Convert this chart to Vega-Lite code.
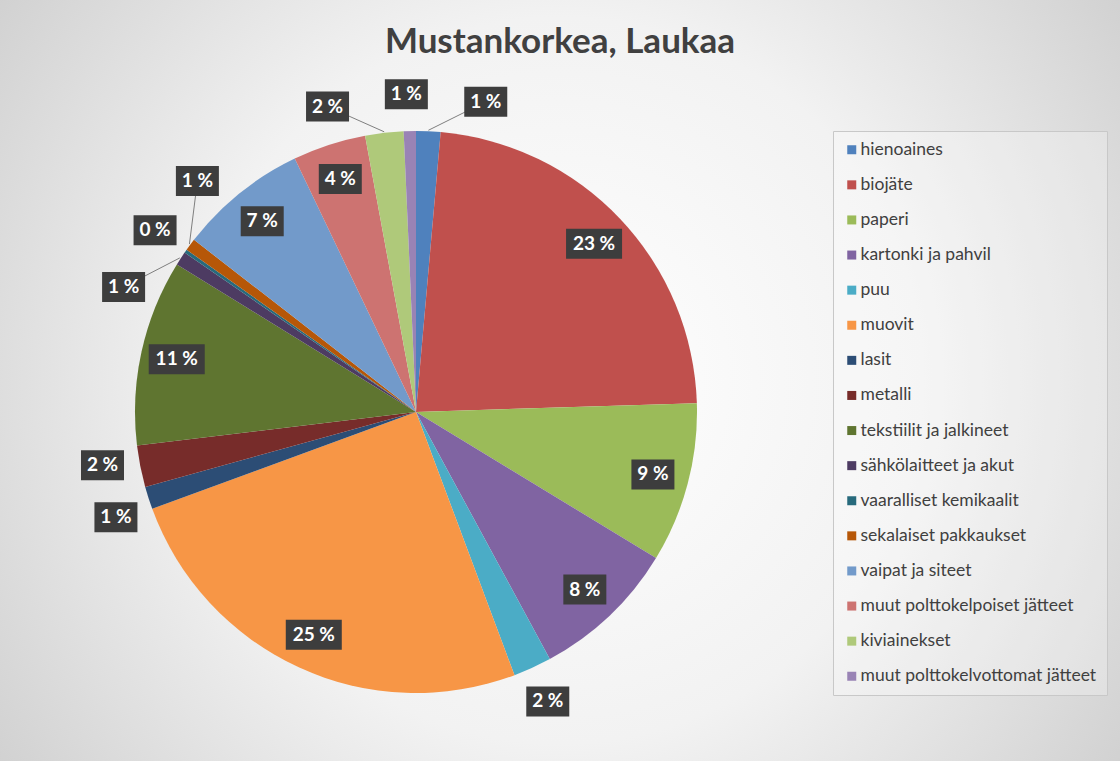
{
  "$schema": "https://vega.github.io/schema/vega-lite/v6.json",
  "width": 1120,
  "height": 761,
  "autosize": "none",
  "padding": 0,
  "background": "#d4d4d4",
  "config": {"view": {"stroke": null}, "font": "Lato"},
  "title": {"text": "Mustankorkea, Laukaa", "font": "Lato", "fontSize": 35, "fontWeight": "bold", "color": "#404040", "anchor": "middle", "offset": -52, "dy": 36, "baseline": "alphabetic"},
  "data": {"values": [
    {"i": 1, "k": "hienoaines", "v": 1.4},
    {"i": 2, "k": "biojäte", "v": 23.1},
    {"i": 3, "k": "paperi", "v": 9.2},
    {"i": 4, "k": "kartonki ja pahvil", "v": 8.4},
    {"i": 5, "k": "puu", "v": 2.2},
    {"i": 6, "k": "muovit", "v": 25.1},
    {"i": 7, "k": "lasit", "v": 1.3},
    {"i": 8, "k": "metalli", "v": 2.4},
    {"i": 9, "k": "tekstiilit ja jalkineet", "v": 10.7},
    {"i": 10, "k": "sähkölaitteet ja akut", "v": 0.8},
    {"i": 11, "k": "vaaralliset kemikaalit", "v": 0.2},
    {"i": 12, "k": "sekalaiset pakkaukset", "v": 0.7},
    {"i": 13, "k": "vaipat ja siteet", "v": 7.4},
    {"i": 14, "k": "muut polttokelpoiset jätteet", "v": 4.2},
    {"i": 15, "k": "kiviainekset", "v": 2.2},
    {"i": 16, "k": "muut polttokelvottomat jätteet", "v": 0.7}
  ]},
  "layer": [
    {
      "data": {"values": [{}]},
      "mark": {"type": "rect", "fill": {"gradient": "radial", "x1": 0.5, "y1": 0.5, "r1": 0, "x2": 0.5, "y2": 0.5, "r2": 0.72, "stops": [{"offset": 0, "color": "#ffffff"}, {"offset": 0.45, "color": "#f2f2f2"}, {"offset": 1, "color": "#c4c4c4"}]}},
      "encoding": {}
    },
    {
      "mark": {"type": "arc", "outerRadius": 281},
      "encoding": {
        "theta": {"field": "v", "type": "quantitative", "stack": true},
        "order": {"field": "i", "type": "quantitative"},
        "x": {"datum": 0, "type": "quantitative", "scale": {"domain": [-416, 704], "nice": false, "zero": false}, "axis": null},
        "y": {"datum": 0, "type": "quantitative", "scale": {"domain": [-349, 412], "nice": false, "zero": false}, "axis": null},
        "color": {
          "field": "k", "type": "nominal", "sort": null,
          "scale": {
            "domain": ["hienoaines", "biojäte", "paperi", "kartonki ja pahvil", "puu", "muovit", "lasit", "metalli", "tekstiilit ja jalkineet", "sähkölaitteet ja akut", "vaaralliset kemikaalit", "sekalaiset pakkaukset", "vaipat ja siteet", "muut polttokelpoiset jätteet", "kiviainekset", "muut polttokelvottomat jätteet"],
            "range": ["#4F81BD", "#C0504D", "#9BBB59", "#8064A2", "#4BACC6", "#F79646", "#2C4D75", "#772C2A", "#5F7530", "#4D3B62", "#276A7C", "#B65708", "#729ACA", "#CD7371", "#AFC97A", "#9983B5"]
          },
          "legend": {"orient": "none", "legendX": 833, "legendY": 131, "title": null, "symbolType": "square", "symbolSize": 81, "symbolStrokeWidth": 0, "labelFontSize": 17.5, "labelFont": "Lato", "labelColor": "#404040", "rowPadding": 16.1, "padding": 10, "fillColor": "rgba(255,255,255,0.25)", "strokeColor": "#c8c8c8", "labelLimit": 400, "labelOffset": 0}
        }
      }
    },
    {
      "transform": [
        {"window": [{"op": "sum", "field": "v", "as": "cum"}], "sort": [{"field": "i"}], "frame": [null, 0]},
        {"joinaggregate": [{"op": "sum", "field": "v", "as": "tot"}]},
        {"calculate": "(datum.cum - datum.v / 2) / datum.tot * 360", "as": "mid"},
        {"calculate": "datum.v < 3 ? 1 : 0", "as": "out"},
        {"calculate": "datum.mid > 270 ? datum.mid - 360 : datum.mid", "as": "a"},
        {"window": [{"op": "lag", "field": "a", "as": "pa"}], "sort": [{"field": "a"}], "groupby": ["out"]},
        {"calculate": "(datum.pa == null || datum.a - datum.pa > 20) ? 1 : 0", "as": "nc"},
        {"window": [{"op": "sum", "field": "nc", "as": "cl"}], "sort": [{"field": "a"}], "groupby": ["out"], "frame": [null, 0]},
        {"joinaggregate": [{"op": "mean", "field": "a", "as": "ca"}, {"op": "count", "as": "n"}], "groupby": ["out", "cl"]},
        {"window": [{"op": "row_number", "as": "rk"}], "sort": [{"field": "a"}], "groupby": ["out", "cl"]},
        {"calculate": "datum.out == 1 ? datum.ca + (datum.rk - (datum.n + 1) / 2) * (45 + 35 * abs(cos(datum.ca * PI / 180))) / 318 * 180 / PI : datum.mid", "as": "la"},
        {"calculate": "datum.out == 1 ? 318 : 245", "as": "lr"},
        {"calculate": "datum.lr * sin(datum.la * PI / 180)", "as": "lx"},
        {"calculate": "datum.lr * cos(datum.la * PI / 180)", "as": "ly"},
        {"calculate": "282 * sin(datum.mid * PI / 180)", "as": "ex"},
        {"calculate": "282 * cos(datum.mid * PI / 180)", "as": "ey"},
        {"calculate": "toString(round(datum.v)) + ' %'", "as": "t"},
        {"calculate": "13 * length(datum.t) + 4", "as": "w"},
        {"calculate": "datum.lx - datum.w / 2", "as": "bx1"},
        {"calculate": "datum.lx + datum.w / 2", "as": "bx2"},
        {"calculate": "datum.ly - 15", "as": "by1"},
        {"calculate": "datum.ly + 15", "as": "by2"}
      ],
      "layer": [
        {
          "transform": [{"filter": "datum.out == 1 && abs(datum.la - (datum.mid > 270 ? datum.mid - 360 : datum.mid)) > 3"}],
          "mark": {"type": "rule", "color": "#7f7f7f", "strokeWidth": 1},
          "encoding": {
            "x": {"field": "ex", "type": "quantitative", "scale": {"domain": [-416, 704], "nice": false, "zero": false}, "axis": null},
            "y": {"field": "ey", "type": "quantitative", "scale": {"domain": [-349, 412], "nice": false, "zero": false}, "axis": null},
            "x2": {"field": "lx"},
            "y2": {"field": "ly"}
          }
        },
        {
          "mark": {"type": "rect", "fill": "#3d3d3d"},
          "encoding": {
            "x": {"field": "bx1", "type": "quantitative", "scale": {"domain": [-416, 704], "nice": false, "zero": false}, "axis": null},
            "x2": {"field": "bx2"},
            "y": {"field": "by1", "type": "quantitative", "scale": {"domain": [-349, 412], "nice": false, "zero": false}, "axis": null},
            "y2": {"field": "by2"}
          }
        },
        {
          "mark": {"type": "text", "color": "#ffffff", "font": "Lato", "fontWeight": "bold", "fontSize": 19, "align": "center", "baseline": "middle"},
          "encoding": {
            "x": {"field": "lx", "type": "quantitative", "scale": {"domain": [-416, 704], "nice": false, "zero": false}, "axis": null},
            "y": {"field": "ly", "type": "quantitative", "scale": {"domain": [-349, 412], "nice": false, "zero": false}, "axis": null},
            "text": {"field": "t", "type": "nominal"}
          }
        }
      ]
    }
  ]
}
